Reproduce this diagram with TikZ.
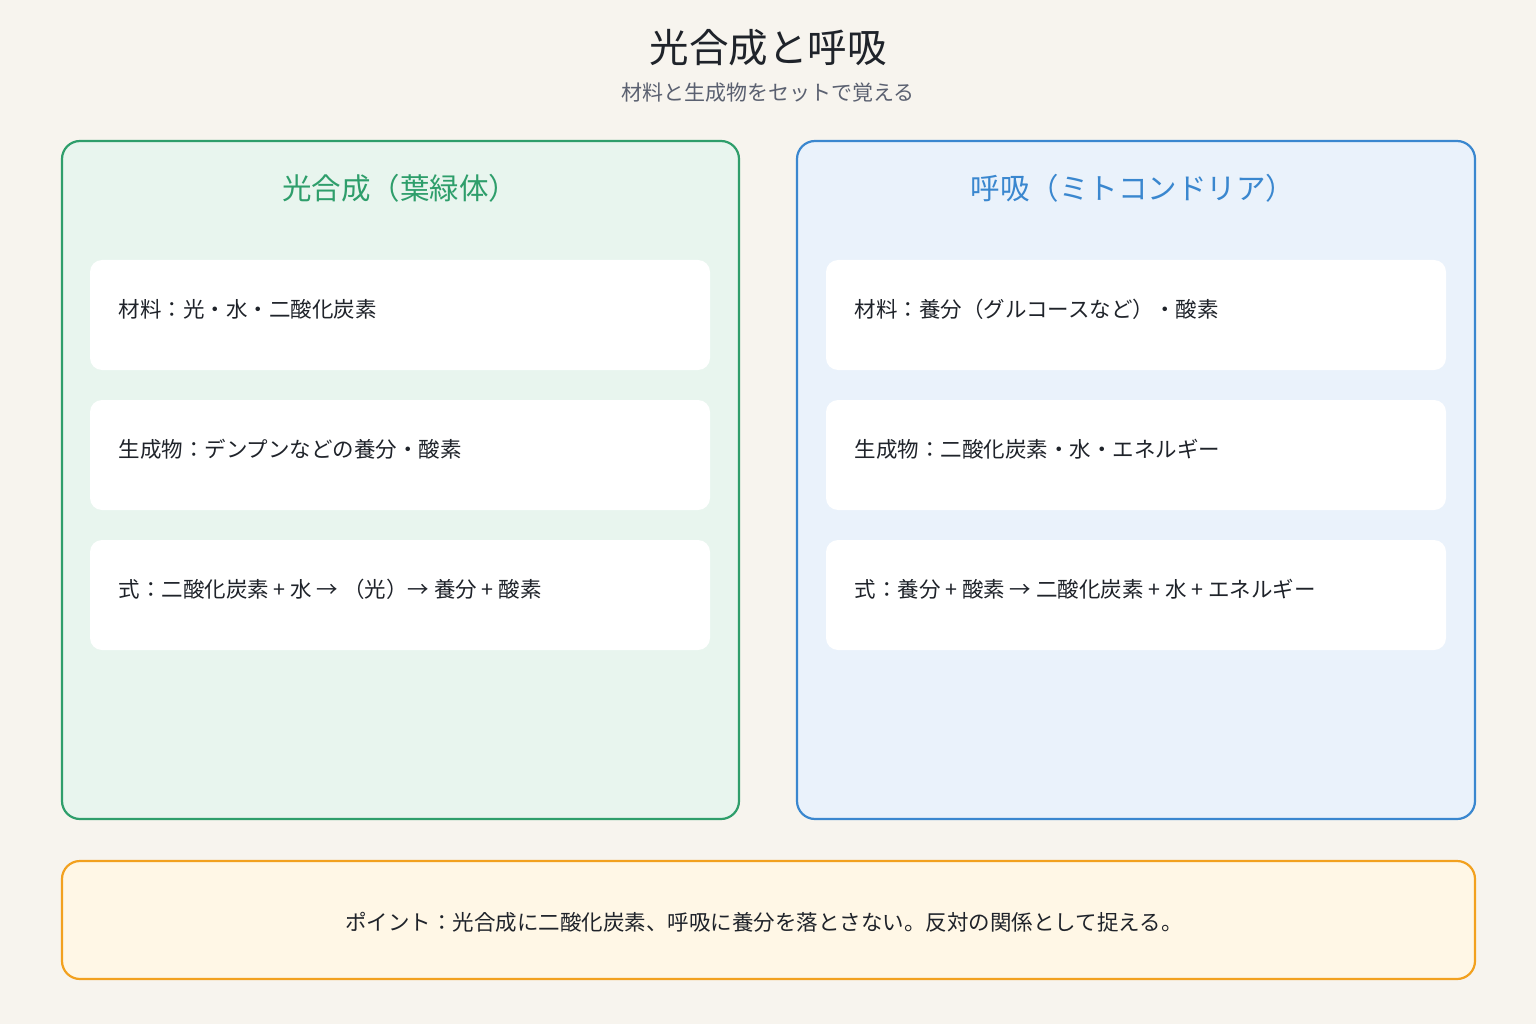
\documentclass[tikz,border=0pt]{standalone}
\usepackage{fontspec}
\setmainfont{Noto Sans CJK JP}
\definecolor{bg}{HTML}{F7F4EE}
\definecolor{ink}{HTML}{1F232A}
\definecolor{sub}{HTML}{5A6070}
\definecolor{gline}{HTML}{2E9E6B}
\definecolor{gfill}{HTML}{E8F5EE}
\definecolor{bline}{HTML}{3A87CF}
\definecolor{bfill}{HTML}{EAF2FB}
\definecolor{oline}{HTML}{F2A11F}
\definecolor{ofill}{HTML}{FFF7E6}
\begin{document}
\begin{tikzpicture}[x=1pt,y=-1pt,
  panel/.style={draw,line width=2.2pt,rounded corners=18pt},
  card/.style={fill=white,rounded corners=12pt},
  ctext/.style={anchor=west,font=\fontsize{21.5}{24}\selectfont,text=ink},
  ptitle/.style={font=\fontsize{29.5}{34}\selectfont}]
\fill[bg] (0,0) rectangle (1536,1024);
\useasboundingbox (0,0) rectangle (1536,1024);
\node (title) at (768,48) {\fontsize{39.5}{44}\selectfont\color{ink}光合成と呼吸};
\node (subt) at (768,93) {\fontsize{21}{24}\selectfont\color{sub}材料と生成物をセットで覚える};
\draw[panel,draw=gline,fill=gfill] (62,141) rectangle (739,819);
\draw[panel,draw=bline,fill=bfill] (797,141) rectangle (1475,819);
\node[ptitle,text=gline] (lt) at (400,188) {光合成（葉緑体）};
\node[ptitle,text=bline] (rt) at (1133,188) {呼吸（ミトコンドリア）};
\foreach \y in {260,400,540}{
  \fill[card] (90,\y) rectangle (710,\y+110);
  \fill[card] (826,\y) rectangle (1446,\y+110);
}
\node[ctext] (l1) at (115,309) {材料：光・水・二酸化炭素};
\node[ctext] (l2) at (115,449) {生成物：デンプンなどの養分・酸素};
\node[ctext] (l3) at (115,589) {式：二酸化炭素 + 水 → （光）→ 養分 + 酸素};
\node[ctext] (r1) at (851,309) {材料：養分（グルコースなど）・酸素};
\node[ctext] (r2) at (851,449) {生成物：二酸化炭素・水・エネルギー};
\node[ctext] (r3) at (851,589) {式：養分 + 酸素 → 二酸化炭素 + 水 + エネルギー};
\draw[panel,draw=oline,fill=ofill] (62,861) rectangle (1475,979);
\node[font=\fontsize{21.5}{24}\selectfont,text=ink] (pt) at (764,922) {ポイント：光合成に二酸化炭素、呼吸に養分を落とさない。反対の関係として捉える。};
\end{tikzpicture}
\end{document}
